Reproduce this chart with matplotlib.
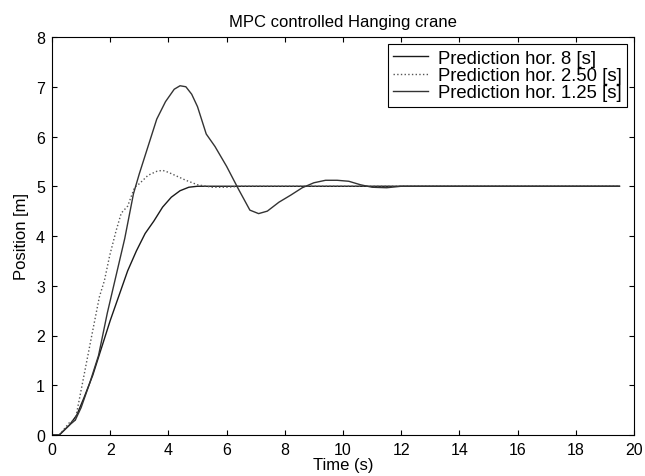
import matplotlib
matplotlib.use("Agg")
import matplotlib.pyplot as plt

plt.rcParams['font.family'] = ['Liberation Sans', 'DejaVu Sans']

# Prediction horizon 8 s - slow, no overshoot
t_h8 = [0, 0.25, 0.6, 0.85, 1.1, 1.4, 1.7, 2.0, 2.3, 2.6, 2.9, 3.2, 3.5,
        3.8, 4.1, 4.4, 4.7, 5.0, 5.5, 6, 8, 10, 12, 14, 16, 18, 19.5]
y_h8 = [0, 0, 0.2, 0.4, 0.75, 1.2, 1.75, 2.3, 2.8, 3.3, 3.7, 4.05, 4.3,
        4.58, 4.78, 4.91, 4.98, 5.0, 5.0, 5.0, 5.0, 5.0, 5.0, 5.0, 5.0, 5.0, 5.0]

# Prediction horizon 2.50 s - small overshoot
t_h250 = [0, 0.25, 0.6, 0.8, 1.0, 1.2, 1.4, 1.63, 1.8, 1.98, 2.2, 2.38, 2.6,
          2.84, 3.0, 3.3, 3.6, 3.8, 4.0, 4.3, 4.6, 5.0, 5.5, 6.0, 6.5, 7,
          10, 14, 19.5]
y_h250 = [0, 0, 0.25, 0.3, 0.9, 1.5, 2.1, 2.78, 3.1, 3.6, 4.1, 4.46, 4.6,
          4.98, 5.05, 5.22, 5.3, 5.32, 5.28, 5.2, 5.12, 5.03, 4.98, 4.98,
          5.0, 5.0, 5.0, 5.0, 5.0]

# Prediction horizon 1.25 s - large overshoot
t_h125 = [0, 0.25, 0.6, 0.8, 1.0, 1.3, 1.6, 1.9, 2.2, 2.5, 2.8, 3.0, 3.3,
          3.6, 3.9, 4.2, 4.4, 4.6, 4.8, 5.0, 5.3, 5.6, 6.0, 6.4, 6.8, 7.1,
          7.4, 7.8, 8.2, 8.6, 9.0, 9.4, 9.8, 10.2, 10.6, 11.0, 11.5, 12,
          14, 19.5]
y_h125 = [0, 0, 0.2, 0.3, 0.55, 1.05, 1.6, 2.45, 3.2, 3.95, 4.85, 5.25, 5.8,
          6.35, 6.7, 6.95, 7.02, 7.0, 6.85, 6.6, 6.05, 5.8, 5.4, 4.95, 4.52,
          4.45, 4.5, 4.68, 4.82, 4.97, 5.07, 5.12, 5.12, 5.1, 5.03, 4.98,
          4.97, 5.0, 5.0, 5.0]

labels = ["Prediction hor. 8 [s]",
          "Prediction hor. 2.50 [s]",
          "Prediction hor. 1.25 [s]"]

fig = plt.figure(figsize=(6.45, 4.77), dpi=100)
ax = fig.add_axes([52 / 645, 41 / 477, 582 / 645, 398 / 477])

ax.plot(t_h8, y_h8, color="#1a1a1a", lw=1.0, label=labels[0])
ax.plot(t_h250, y_h250, color="#555555", lw=1.0, ls=":", label=labels[1])
ax.plot(t_h125, y_h125, color="#333333", lw=1.0, label=labels[2])

ax.set_xlim(0, 20)
ax.set_ylim(0, 8)
ax.set_xticks(range(0, 21, 2))
ax.set_yticks(range(0, 9))
ax.tick_params(direction="in", top=True, right=True, length=3.5,
               width=0.8, labelsize=11.5, pad=5)
for s in ax.spines.values():
    s.set_linewidth(0.8)

ax.set_title("MPC controlled Hanging crane", fontsize=12, pad=8)
ax.set_xlabel("Time (s)", fontsize=12, labelpad=0)
ax.set_ylabel("Position [m]", fontsize=12, labelpad=5)

leg = ax.legend(loc="upper right", bbox_to_anchor=(0.988, 0.982),
                borderaxespad=0, fontsize=13.3, fancybox=False,
                framealpha=1, edgecolor="black", labelspacing=0.02,
                handlelength=1.9, handletextpad=0.5, borderpad=0.3)
leg.get_frame().set_linewidth(0.8)

fig.savefig("out.png", dpi=100)
